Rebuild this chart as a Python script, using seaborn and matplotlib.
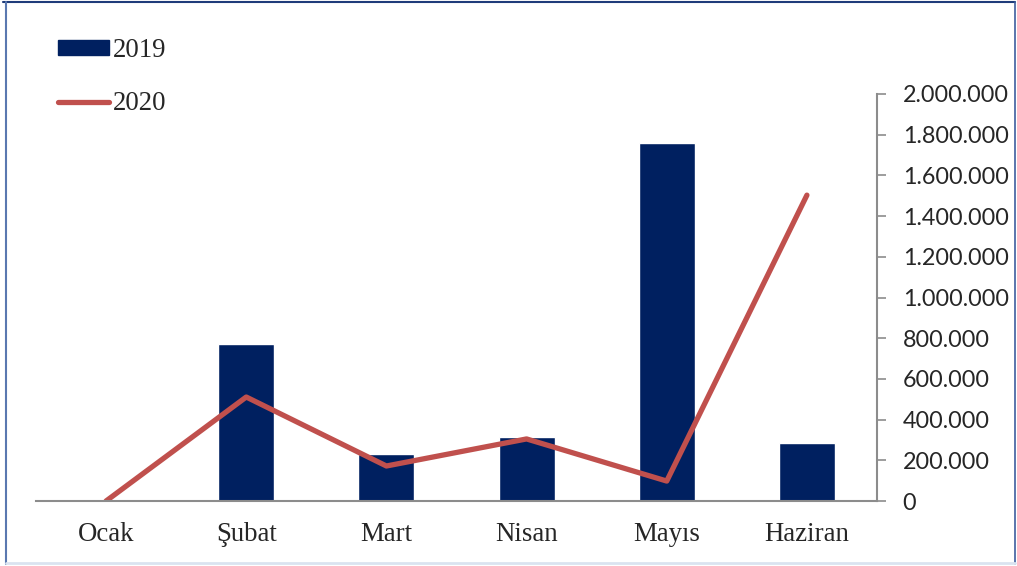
import numpy as np
import pandas as pd
import seaborn as sns
import matplotlib.pyplot as plt
from matplotlib.lines import Line2D
from matplotlib.patches import Patch
from matplotlib.ticker import FuncFormatter

# chart data
months = ["Ocak", "Şubat", "Mart", "Nisan", "Mayıs", "Haziran"]
values_2019 = [0, 772000, 232000, 315000, 1757000, 287000]
values_2020 = [0, 511000, 172000, 305000, 98000, 1503000]
y_ticks = [0, 200000, 400000, 600000, 800000, 1000000, 1200000, 1400000,
           1600000, 1800000, 2000000]

bar_color = "#002060"
line_color = "#C0504D"
spine_color = "#8C8C8C"

sns.set_style("white")
plt.rcParams["font.family"] = ["Liberation Serif", "DejaVu Serif"]

df = pd.DataFrame({"month": months, "v2019": values_2019, "v2020": values_2020})

fig = plt.figure(figsize=(10.17, 5.66), dpi=100)
ax = fig.add_axes([36 / 1017, 65 / 566, 841 / 1017, 407 / 566])

sns.barplot(data=df, x="month", y="v2019", color=bar_color, width=0.4,
            saturation=1, ax=ax)
sns.lineplot(x=np.arange(len(months)), y=df["v2020"], color=line_color,
             linewidth=3.8, ax=ax, solid_capstyle="round", solid_joinstyle="round")

ax.set_xlim(-0.5, len(months) - 0.5)
ax.set_ylim(0, 2000000)
ax.set_xlabel("")
ax.set_ylabel("")

# y axis on the right
ax.yaxis.tick_right()
ax.set_yticks(y_ticks)
ax.yaxis.set_major_formatter(FuncFormatter(lambda v, p: f"{int(v):,}".replace(",", ".")))
ax.tick_params(axis="y", direction="out", length=6.5, width=1.2, color=spine_color,
               pad=12, labelsize=16.8)
for lab in ax.get_yticklabels():
    lab.set_fontfamily(["Lato", "DejaVu Sans"])
ax.tick_params(axis="x", length=0, pad=15, labelsize=19.3)

for side in ["left", "top"]:
    ax.spines[side].set_visible(False)
for side in ["right", "bottom"]:
    ax.spines[side].set_visible(True)
    ax.spines[side].set_color(spine_color)
    ax.spines[side].set_linewidth(1.5)

# legend in the upper left corner
handles = [Patch(facecolor=bar_color, edgecolor=bar_color, label="2019"),
           Line2D([0], [0], color=line_color, linewidth=3.8,
                  solid_capstyle="round", label="2020")]
fig.legend(handles=handles, loc="upper left", bbox_to_anchor=(34 / 1017, 1 - 14 / 566),
           frameon=False, fontsize=19.3, handlelength=1.9, handleheight=0.45,
           handletextpad=0.15, labelspacing=1.05)

# outer frame
fig.add_artist(Line2D([0.003, 0.998], [0.996, 0.996], transform=fig.transFigure,
                      color="#1F3C7A", linewidth=1.5))
fig.add_artist(Line2D([0.006, 0.006], [0.004, 0.996], transform=fig.transFigure,
                      color="#5A78B0", linewidth=1.5))
fig.add_artist(Line2D([0.998, 0.998], [0.004, 0.996], transform=fig.transFigure,
                      color="#3E5E9E", linewidth=1.2))
fig.add_artist(Line2D([0.006, 0.998], [0.005, 0.005], transform=fig.transFigure,
                      color="#DAE3F0", linewidth=2))

fig.savefig("out.png", dpi=100)
